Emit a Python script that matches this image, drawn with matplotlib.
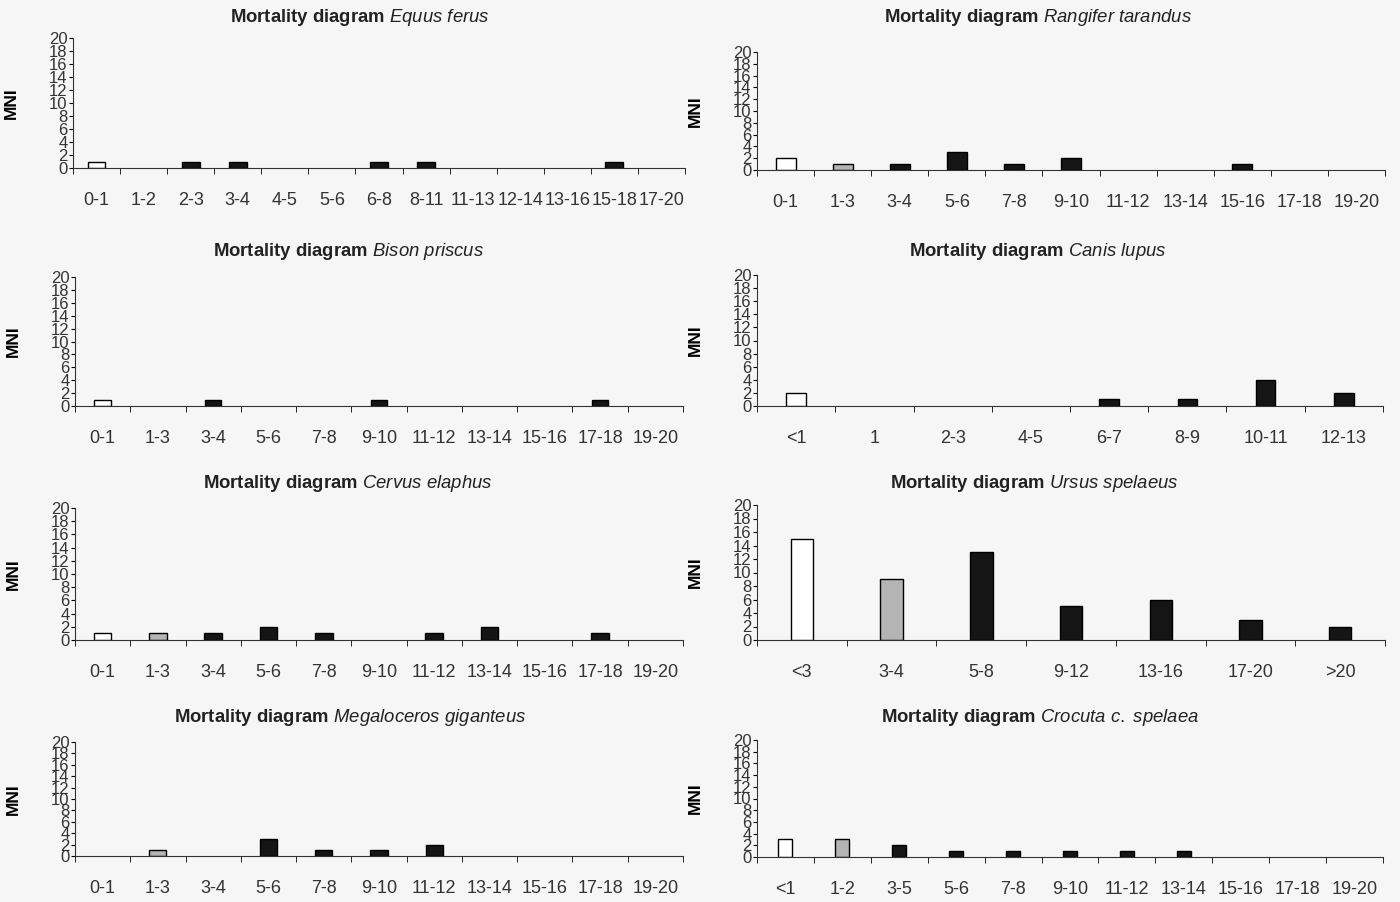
import numpy as np
import matplotlib
matplotlib.use("Agg")
import matplotlib.pyplot as plt

plt.rcParams['font.family'] = ['Liberation Sans', 'DejaVu Sans']
plt.rcParams['mathtext.fontset'] = 'custom'
plt.rcParams['mathtext.rm'] = 'Liberation Sans'
plt.rcParams['mathtext.bf'] = 'Liberation Sans:bold'
plt.rcParams['mathtext.it'] = 'Liberation Sans:italic'

# age classes (years) and MNI per species
equus_ages = ["0-1", "1-2", "2-3", "3-4", "4-5", "5-6", "6-8", "8-11", "11-13", "12-14", "13-16", "15-18", "17-20"]
equus_mni = [1, 0, 1, 1, 0, 0, 1, 1, 0, 0, 0, 1, 0]

std_ages = ["0-1", "1-3", "3-4", "5-6", "7-8", "9-10", "11-12", "13-14", "15-16", "17-18", "19-20"]
rangifer_mni = [2, 1, 1, 3, 1, 2, 0, 0, 1, 0, 0]
bison_mni = [1, 0, 1, 0, 0, 1, 0, 0, 0, 1, 0]
cervus_mni = [1, 1, 1, 2, 1, 0, 1, 2, 0, 1, 0]
megaloceros_mni = [0, 1, 0, 3, 1, 1, 2, 0, 0, 0, 0]

canis_ages = ["<1", "1", "2-3", "4-5", "6-7", "8-9", "10-11", "12-13"]
canis_mni = [2, 0, 0, 0, 1, 1, 4, 2]

ursus_ages = ["<3", "3-4", "5-8", "9-12", "13-16", "17-20", ">20"]
ursus_mni = [15, 9, 13, 5, 6, 3, 2]

crocuta_ages = ["<1", "1-2", "3-5", "5-6", "7-8", "9-10", "11-12", "13-14", "15-16", "17-18", "19-20"]
crocuta_mni = [3, 3, 2, 1, 1, 1, 1, 1, 0, 0, 0]

W, H = 1400, 902
fig = plt.figure(figsize=(W / 100, H / 100), dpi=100)
fig.patch.set_facecolor('#f6f6f6')


def draw_panel(x0, x1, y20, y0, ages, mni, width, species, tx, ty):
    ax = fig.add_axes([x0 / W, (H - y0) / H, (x1 - x0) / W, (y0 - y20) / H])
    ax.set_facecolor('none')
    n = len(ages)
    colors = ['white', '#b4b4b4'] + ['#151515'] * (n - 2)
    edges = ['black' if v > 0 else 'none' for v in mni]
    ax.bar(np.arange(n), mni, width=width, color=colors, edgecolor=edges, linewidth=1.0)
    ax.set_xlim(-0.5, n - 0.5)
    ax.set_ylim(0, 20)
    ax.set_yticks(np.arange(0, 21, 2))
    ax.tick_params(axis='y', labelsize=12, length=3, pad=1, direction='out', labelcolor='#333333')
    ax.set_xticks(np.arange(n))
    ax.set_xticklabels(ages)
    ax.set_xticks(np.arange(n + 1) - 0.5, minor=True)
    ax.tick_params(axis='x', which='major', length=0, pad=17, labelsize=13, labelcolor='#333333')
    ax.tick_params(axis='x', which='minor', length=4, direction='out')
    for s in ['top', 'right']:
        ax.spines[s].set_visible(False)
    for s in ['left', 'bottom']:
        ax.spines[s].set_color('#333333')
    ax.set_ylabel('MNI', fontweight='bold', fontsize=12.5)
    ax.yaxis.set_label_coords(-54 / (x1 - x0), 0.5)
    fig.text(tx / W, 1 - ty / H,
             r"$\mathbf{Mortality\ diagram}$ $\mathit{" + species.replace(' ', r'\ ') + "}$",
             ha='center', va='center', fontsize=13.3, color='#222222')
    return ax


draw_panel(73, 685, 38, 168, equus_ages, equus_mni, 0.38, "Equus ferus", 360, 18)
draw_panel(757, 1385, 52, 170, std_ages, rangifer_mni, 0.35, "Rangifer tarandus", 1038, 18)
draw_panel(75, 683, 277, 406, std_ages, bison_mni, 0.30, "Bison priscus", 348, 251)
draw_panel(757, 1383, 275, 406, canis_ages, canis_mni, 0.25, "Canis lupus", 1038, 251)
draw_panel(75, 683, 508, 640, std_ages, cervus_mni, 0.32, "Cervus elaphus", 348, 483)
draw_panel(757, 1385, 505, 640, ursus_ages, ursus_mni, 0.25, "Ursus spelaeus", 1034, 483)
draw_panel(75, 683, 742, 856, std_ages, megaloceros_mni, 0.31, "Megaloceros giganteus", 350, 717)
draw_panel(757, 1383, 740, 857, crocuta_ages, crocuta_mni, 0.245, "Crocuta c. spelaea", 1040, 717)

fig.savefig("out.png", dpi=100, facecolor=fig.get_facecolor())
